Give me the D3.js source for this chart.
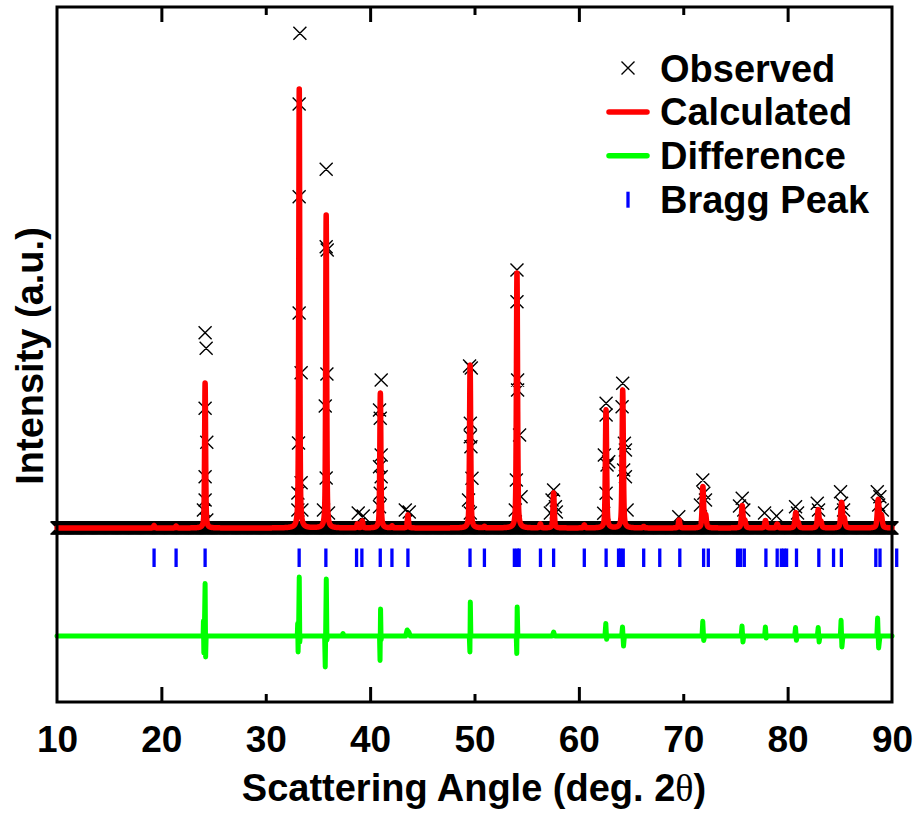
<!DOCTYPE html>
<html>
<head>
<meta charset="utf-8">
<script src="https://cdn.jsdelivr.net/npm/d3@7"></script>
<style>
  html, body { margin: 0; padding: 0; background: #fff; }
  svg { display: block; font-family: "Liberation Sans", Arial, sans-serif; font-weight: bold; }
</style>
</head>
<body>
<svg id="chart" width="916" height="813"></svg>
<script>
// ---- Refinement data (2θ in degrees, intensity in counts) ----

// Calculated reflections: centre, peak height, FWHM
const calcPos    = [19.30, 21.41, 24.19, 33.21, 35.79, 38.78, 39.25, 40.98, 42.10, 43.62,
                    49.58, 50.95, 54.07, 56.31, 57.58, 60.52, 62.60, 64.20, 66.21, 69.60,
                    71.88, 72.15, 75.65, 75.90, 77.88, 79.00, 80.78, 81.00, 82.93, 83.18,
                    85.17, 85.42, 88.68, 88.98];
const calcHeight = [25, 20, 1450, 4390, 3130, 40, 70, 1350, 20, 130,
                    1630, 15, 2550, 40, 350, 30, 1180, 1380, 15, 80,
                    410, 120, 220, 70, 75, 40, 150, 50, 180, 60,
                    250, 90, 280, 120];
const calcFwhm   = [0.12, 0.12, 0.11, 0.11, 0.11, 0.12, 0.12, 0.12, 0.12, 0.13,
                    0.13, 0.13, 0.13, 0.14, 0.14, 0.14, 0.14, 0.14, 0.15, 0.15,
                    0.16, 0.16, 0.17, 0.17, 0.17, 0.17, 0.18, 0.18, 0.18, 0.18,
                    0.19, 0.19, 0.20, 0.20];
const lorentzFraction = 0.5;
const backgroundCounts = 0;

// Scan range of the measurement
const scanStart = 10, scanEnd = 90, scanStep = 0.05;

// Observed points standing out above the background
const obsAngle = [24.19, 24.29, 24.19, 24.35, 24.19, 24.19, 24.03, 24.35,
                  33.27, 33.20, 33.20, 33.20, 33.39, 33.14, 33.39, 33.08, 33.46, 33.08,
                  35.79, 35.79, 35.89, 35.86, 35.70, 35.79, 35.53, 36.01,
                  41.06, 40.90, 40.97, 41.06, 40.90, 41.06, 40.97, 40.90,
                  38.86, 39.34, 43.37, 43.75,
                  49.53, 49.69, 49.60, 49.60, 49.66, 49.76, 49.43, 49.60,
                  54.07, 54.07, 54.13, 54.13, 54.32, 54.01, 54.46, 53.91,
                  57.58, 57.43, 57.75, 57.27, 57.84,
                  62.61, 62.61, 62.44, 62.86, 62.70, 62.61, 62.38,
                  64.20, 64.14, 64.36, 64.46, 64.29, 64.46, 64.62,
                  69.57, 71.87, 71.97, 72.13, 71.65,
                  75.65, 75.80, 75.39, 77.79, 78.94,
                  80.76, 80.95, 82.84, 82.96,
                  85.07, 85.17, 85.36,
                  88.59, 88.84, 89.07, 88.72];
const obsCounts = [1953, 1797, 1197, 857, 513, 280, 180, 80,
                   4947, 4240, 3313, 2150, 1553, 850, 453, 350, 180, 180,
                   3587, 2813, 2780, 1540, 1220, 500, 180, 150,
                   1480, 1180, 1097, 730, 613, 513, 347, 213,
                   150, 120, 180, 160,
                   1620, 1600, 1047, 913, 813, 497, 280, 150,
                   2580, 2263, 1480, 1380, 930, 480, 313, 180,
                   380, 280, 213, 150, 160,
                   1247, 1130, 730, 663, 630, 347, 147,
                   1447, 1213, 847, 780, 580, 513, 180,
                   113, 480, 347, 280, 230,
                   297, 180, 220, 150, 120,
                   213, 150, 247, 180,
                   363, 247, 180,
                   363, 313, 180, 230];

// Difference (observed − calculated)
const diffAngle = [10,
  24.00, 24.03, 24.07, 24.12, 24.19, 24.24, 24.29,
  33.02, 33.06, 33.10, 33.15, 33.21, 33.26, 33.31,
  35.64, 35.70, 35.74, 35.80, 35.86, 35.92,
  37.30, 37.40, 37.50,
  40.90, 40.95, 41.00, 41.05, 41.10,
  43.40, 43.55, 43.70, 43.85,
  49.50, 49.56, 49.60, 49.65,
  54.00, 54.05, 54.09, 54.15,
  57.45, 57.58, 57.70,
  62.50, 62.58, 62.66, 62.72,
  64.10, 64.18, 64.28, 64.36,
  71.80, 71.87, 71.96, 72.05,
  75.55, 75.63, 75.72, 75.80,
  77.80, 77.87, 77.95, 78.00,
  80.68, 80.76, 80.84, 80.92,
  82.85, 82.93, 83.02, 83.10,
  85.05, 85.12, 85.20, 85.30,
  88.55, 88.62, 88.72, 88.85,
  90];
const diffCounts = [0,
  0, 150, -170, 40, 525, -210, 0,
  0, 125, -160, 60, 590, -60, 0,
  0, -310, 30, 570, -40, 0,
  0, 25, 0,
  0, -245, 270, -40, 0,
  0, 60, 40, 0,
  0, -160, 340, 0,
  0, -176, 290, 0,
  0, 40, 0,
  0, 125, -33, 0,
  0, 90, -100, 0,
  0, 147, -45, 0,
  0, 100, -60, 0,
  0, 90, -20, 0,
  0, 84, -43, 0,
  0, 84, -60, 0,
  0, 157, -110, 0,
  0, 180, -120, 0,
  0];
const diffOffset = -1080;

// Allowed Bragg reflections
const braggPos = [19.30, 21.41, 24.19, 33.20, 35.76, 38.70, 39.21, 40.97, 42.09, 43.62,
                  49.57, 50.95, 53.82, 54.10, 54.28, 56.32, 57.58, 60.52, 62.61, 63.80,
                  64.00, 64.25, 66.21, 67.75, 69.67, 71.95, 72.40, 75.20, 75.50, 75.85,
                  77.92, 79.00, 79.40, 79.65, 79.90, 80.85, 82.99, 84.40, 85.15, 88.45,
                  88.85, 90.45];
const braggTop = -205, braggBottom = -390;

const xTicks = [10, 20, 30, 40, 50, 60, 70, 80, 90];
const xMajor = [20, 40, 60, 80];
const xMinor = [30, 50, 70];
const legendLabels = ["Observed", "Calculated", "Difference", "Bragg Peak"];

// ---- Scales ----
const W = 916, H = 813;
const plot = { left: 57, right: 892, top: 7, bottom: 702 };
const xs = d3.scaleLinear().domain([scanStart, scanEnd]).range([plot.left, plot.right]);
const ys = d3.scaleLinear().domain([-1740, 5210]).range([plot.bottom, plot.top]);

const svg = d3.select("#chart");

// Pseudo-Voigt sum of the calculated reflections
const LN2x4 = 4 * Math.LN2;
function calcAt(t) {
  let s = backgroundCounts;
  for (let i = 0; i < calcPos.length; i++) {
    const u = (t - calcPos[i]) / calcFwhm[i];
    const u2 = u * u;
    s += calcHeight[i] * (lorentzFraction / (1 + 4 * u2) + (1 - lorentzFraction) * Math.exp(-LN2x4 * u2));
  }
  return s;
}
const calcCurve = d3.range(scanStart, scanEnd + 1e-9, 0.005).map(t => [t, calcAt(t)]);

// Observed: dense background scan plus the individual points on the reflections
const obsBand = d3.range(scanStart, scanEnd + 1e-9, scanStep).map(t => [t, backgroundCounts]);
const obsPeaks = obsAngle.map((t, i) => [t, obsCounts[i]]);

const R = 6.5;
function crosses(pts) {
  return pts.map(([t, v]) => {
    const x = xs(t), y = ys(v);
    return `M${x - R},${y - R}L${x + R},${y + R}M${x - R},${y + R}L${x + R},${y - R}`;
  }).join("");
}

svg.append("path")
  .attr("d", crosses(obsBand))
  .attr("fill", "none").attr("stroke", "#000").attr("stroke-width", 1.4);
svg.append("path")
  .attr("d", crosses(obsPeaks))
  .attr("fill", "none").attr("stroke", "#000").attr("stroke-width", 1.4);

// Calculated profile
const line = d3.line().x(d => xs(d[0])).y(d => ys(d[1]));
svg.append("path")
  .datum(calcCurve)
  .attr("d", line)
  .attr("fill", "none").attr("stroke", "#ff0000").attr("stroke-width", 5.5)
  .attr("stroke-linejoin", "round").attr("stroke-linecap", "round");

// Difference curve
const diffData = diffAngle.map((t, i) => [t, diffCounts[i] + diffOffset]);
svg.append("path")
  .datum(diffData)
  .attr("d", line)
  .attr("fill", "none").attr("stroke", "#00ff00").attr("stroke-width", 5)
  .attr("stroke-linejoin", "round").attr("stroke-linecap", "round");

// Bragg reflection markers
svg.append("g").selectAll("line")
  .data(braggPos)
  .join("line")
  .attr("x1", d => xs(d)).attr("x2", d => xs(d))
  .attr("y1", ys(braggTop)).attr("y2", ys(braggBottom))
  .attr("stroke", "#0000ff").attr("stroke-width", 3.3);

// ---- Axes and frame ----
function styleTicks(g) {
  g.select(".domain").remove();
  g.selectAll(".tick line").attr("stroke", "#000").attr("stroke-width", 3);
}
svg.append("g").attr("transform", `translate(0,${plot.bottom})`)
  .call(d3.axisBottom(xs).tickValues(xMajor).tickSize(-15).tickFormat(""))
  .call(styleTicks);
svg.append("g").attr("transform", `translate(0,${plot.bottom})`)
  .call(d3.axisBottom(xs).tickValues(xMinor).tickSize(-8).tickFormat(""))
  .call(styleTicks);
svg.append("g").attr("transform", `translate(0,${plot.top})`)
  .call(d3.axisTop(xs).tickValues(xMajor).tickSize(-15).tickFormat(""))
  .call(styleTicks);
svg.append("g").attr("transform", `translate(0,${plot.top})`)
  .call(d3.axisTop(xs).tickValues(xMinor).tickSize(-8).tickFormat(""))
  .call(styleTicks);

const labelAxis = svg.append("g").attr("transform", `translate(0,${plot.bottom})`)
  .call(d3.axisBottom(xs).tickValues(xTicks).tickSize(0).tickPadding(24).tickFormat(d3.format("d")));
labelAxis.select(".domain").remove();
labelAxis.selectAll("text")
  .attr("font-family", "Liberation Sans, Arial, sans-serif")
  .attr("font-weight", "bold").attr("font-size", 37).attr("fill", "#000");

svg.append("rect")
  .attr("x", plot.left).attr("y", plot.top)
  .attr("width", plot.right - plot.left).attr("height", plot.bottom - plot.top)
  .attr("fill", "none").attr("stroke", "#000").attr("stroke-width", 3);

// Axis titles
const xTitle = svg.append("text")
  .attr("x", 474).attr("y", 801)
  .attr("text-anchor", "middle").attr("font-size", 38).attr("fill", "#000");
xTitle.append("tspan").text("Scattering Angle (deg. 2");
xTitle.append("tspan").attr("font-family", "Liberation Serif, Times New Roman, serif")
  .attr("font-weight", "normal").text("θ");
xTitle.append("tspan").text(")");

svg.append("text")
  .attr("transform", "translate(43,356) rotate(-90)")
  .attr("text-anchor", "middle").attr("font-size", 38).attr("fill", "#000")
  .text("Intensity (a.u.)");

// ---- Legend ----
const legend = svg.append("g");
const rowY = i => 68 + i * 43.9;
legendLabels.forEach((lab, i) => {
  legend.append("text")
    .attr("x", 660).attr("y", rowY(i) + 13.5)
    .attr("font-size", 38).attr("fill", "#000").text(lab);
});
legend.append("path")
  .attr("d", `M${628 - R},${rowY(0) - R}L${628 + R},${rowY(0) + R}M${628 - R},${rowY(0) + R}L${628 + R},${rowY(0) - R}`)
  .attr("stroke", "#000").attr("stroke-width", 1.4).attr("fill", "none");
legend.append("line")
  .attr("x1", 609).attr("x2", 647).attr("y1", rowY(1)).attr("y2", rowY(1))
  .attr("stroke", "#ff0000").attr("stroke-width", 5.5).attr("stroke-linecap", "round");
legend.append("line")
  .attr("x1", 609).attr("x2", 647).attr("y1", rowY(2)).attr("y2", rowY(2))
  .attr("stroke", "#00ff00").attr("stroke-width", 5.5).attr("stroke-linecap", "round");
legend.append("line")
  .attr("x1", 628).attr("x2", 628).attr("y1", rowY(3) - 8).attr("y2", rowY(3) + 8)
  .attr("stroke", "#0000ff").attr("stroke-width", 3.3);
</script>
</body>
</html>
